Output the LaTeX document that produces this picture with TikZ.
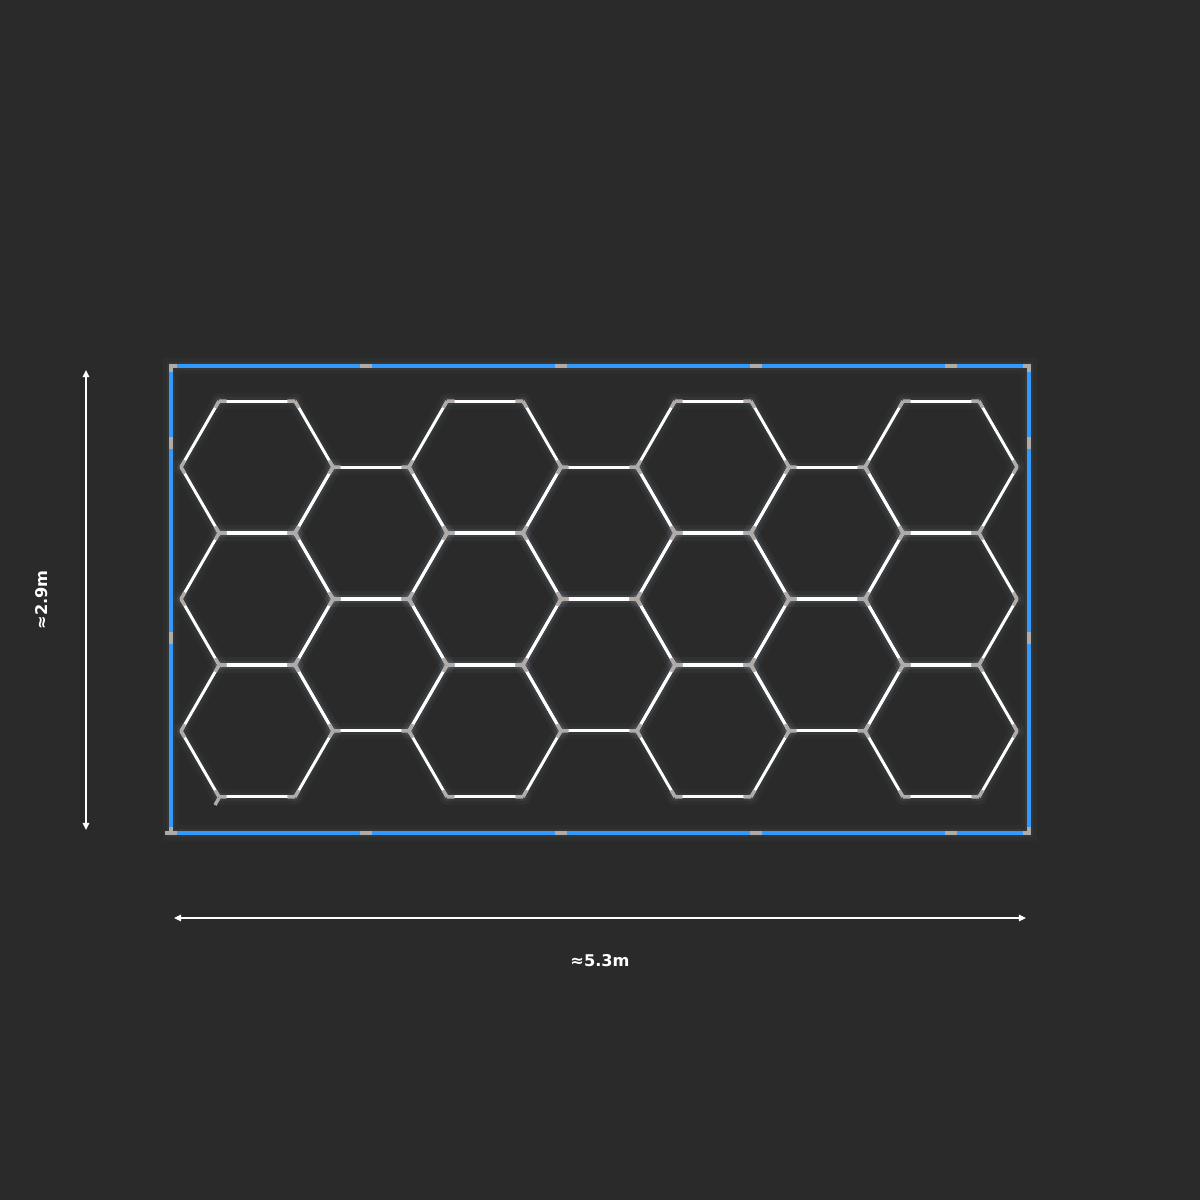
\documentclass[tikz,border=0pt]{standalone}
\usepackage{fontspec}
\setmainfont{DejaVu Sans}
\usetikzlibrary{calc,arrows.meta}
\definecolor{bg}{HTML}{2A2A2A}
\definecolor{bluef}{HTML}{3399FF}
\definecolor{conn}{HTML}{B0ABA6}
\definecolor{glowc}{HTML}{BFD8F5}
\newcommand{\hexpass}[3]{%
  \foreach \cx/\cy in {257/467,257/599,257/731,485/467,485/599,485/731,713/467,713/599,713/731,941/467,941/599,941/731,371/533,371/665,599/533,599/665,827/533,827/665}{%
    \foreach \a in {0,60,...,300}{%
      \coordinate (p) at ($(\cx,\cy)+(\a:76)$);
      \coordinate (q) at ($(\cx,\cy)+(\a+60:76)$);
      #1
    }%
  }%
}
\begin{document}
\begin{tikzpicture}[x=0.025cm,y=-0.025cm,
  glowA/.style={draw=glowc,line width=11pt,opacity=0.022,line cap=round},
  glowB/.style={draw=glowc,line width=6pt,opacity=0.045,line cap=round},
  hexline/.style={draw=white,line width=2.1pt},
  connline/.style={draw=conn,line width=2.4pt},
  frameline/.style={draw=bluef,line width=2.3pt},
  framemark/.style={draw=conn,line width=3pt},
  dimline/.style={draw=white,line width=1.2pt,{Triangle[length=5pt,width=4.5pt]}-{Triangle[length=5pt,width=4.5pt]}},
  dimlabel/.style={text=white,font=\bfseries\fontsize{11.5pt}{13pt}\selectfont}]
\fill[bg] (0,0) rectangle (1200,1200);
\useasboundingbox (0,0) rectangle (1200,1200);
% frame glow
\draw[glowA] (171,366) rectangle (1029,833);
\draw[glowB] (171,366) rectangle (1029,833);
% hex glow
\hexpass{\draw[glowA] (p) -- (q);}{}{}
\hexpass{\draw[glowB] (p) -- (q);}{}{}
% frame
\draw[frameline] (171,366) rectangle (1029,833);
\foreach \x in {366,561,756,951}{
  \draw[framemark] (\x-6,366) -- (\x+6,366);
  \draw[framemark] (\x-6,833) -- (\x+6,833);
}
\foreach \y in {443,638}{
  \draw[framemark] (171,\y-6) -- (171,\y+6);
  \draw[framemark] (1029,\y-6) -- (1029,\y+6);
}
\draw[framemark] (171,372) -- (171,366) -- (177,366);
\draw[framemark] (1023,366) -- (1029,366) -- (1029,372);
\draw[framemark] (1029,827) -- (1029,833) -- (1023,833);
\draw[framemark] (165,833) -- (177,833);
\draw[framemark] (171,827) -- (171,833);
% hex lines
\hexpass{\draw[hexline] (p) -- (q);}{}{}
\hexpass{\draw[connline] (p) -- ($(p)!0.1!(q)$); \draw[connline] (q) -- ($(q)!0.1!(p)$);}{}{}
\draw[connline] (219,798) -- (215,805);
% dimensions
\coordinate (vt) at (86,370);
\coordinate (vb) at (86,830);
\coordinate (hl) at (174,918);
\coordinate (hr) at (1026,918);
\draw[dimline] (vt) -- (vb);
\draw[dimline] (hl) -- (hr);
\node[dimlabel,rotate=90] (lh) at (42,600) {≈2.9m};
\node[dimlabel] (lw) at (600,961) {≈5.3m};
\end{tikzpicture}
\end{document}
